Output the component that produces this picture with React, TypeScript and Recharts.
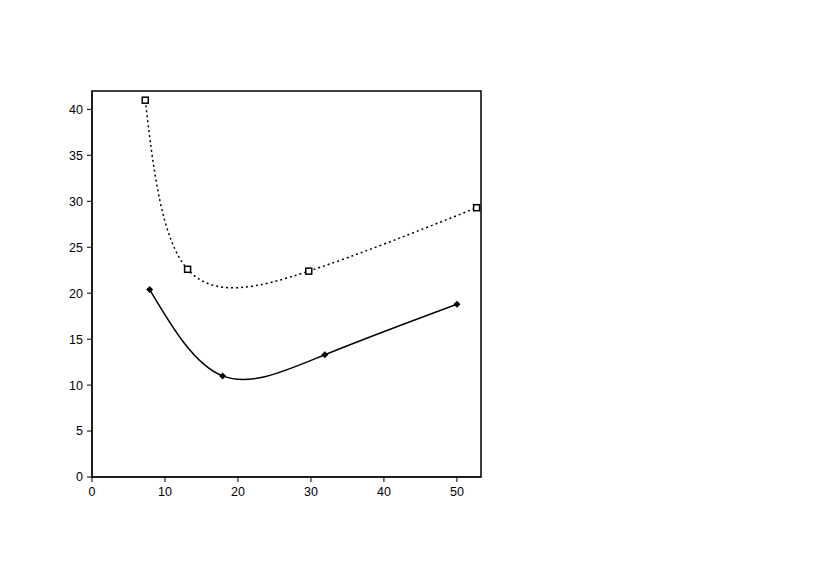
import { LineChart, Line, XAxis, YAxis, ReferenceArea } from "recharts";

const upperX = [7.3, 13.1, 29.7, 52.7];
const upperY = [41.0, 22.6, 22.4, 29.3];
const lowerX = [7.9, 17.9, 31.9, 50.0];
const lowerY = [20.4, 11.0, 13.3, 18.8];
const xTicks = [0, 10, 20, 30, 40, 50];
const yTicks = [0, 5, 10, 15, 20, 25, 30, 35, 40];

const upper = upperX.map((x, i) => ({ x, y: upperY[i] }));
const lower = lowerX.map((x, i) => ({ x, y: lowerY[i] }));

const SquareDot = (p: any) => (
  <rect key={p.index} x={p.cx - 3} y={p.cy - 3} width={6} height={6} fill="#fff" stroke="#000" strokeWidth={1.5} />
);

const DiamondDot = (p: any) => (
  <polygon
    key={p.index}
    points={`${p.cx},${p.cy - 3.5} ${p.cx + 3.5},${p.cy} ${p.cx},${p.cy + 3.5} ${p.cx - 3.5},${p.cy}`}
    fill="#000"
  />
);

const tick = { fontSize: 12.5, fill: "#000", fontFamily: "Liberation Sans, Arial, sans-serif" };

export default function App() {
  return (
    <LineChart width={822} height={579} margin={{ top: 83, right: 349, bottom: 80, left: 54 }}>
      <XAxis
        type="number"
        dataKey="x"
        domain={[0, 53.3]}
        ticks={xTicks}
        tick={tick}
        stroke="#000"
        tickSize={5}
        tickMargin={5}
        height={30}
        allowDataOverflow
      />
      <YAxis
        type="number"
        dataKey="y"
        domain={[0, 42]}
        ticks={yTicks}
        tick={tick}
        stroke="#000"
        tickSize={5}
        tickMargin={4}
        width={30}
        allowDataOverflow
      />
      <ReferenceArea x1={0} x2={53.3} y1={0} y2={42} fill="none" stroke="#000" strokeWidth={1.5} fillOpacity={0} />
      <Line
        data={upper}
        dataKey="y"
        type="natural"
        stroke="#000"
        strokeWidth={1.5}
        strokeDasharray="2 3"
        dot={SquareDot}
        isAnimationActive={false}
      />
      <Line
        data={lower}
        dataKey="y"
        type="natural"
        stroke="#000"
        strokeWidth={1.5}
        dot={DiamondDot}
        isAnimationActive={false}
      />
    </LineChart>
  );
}
